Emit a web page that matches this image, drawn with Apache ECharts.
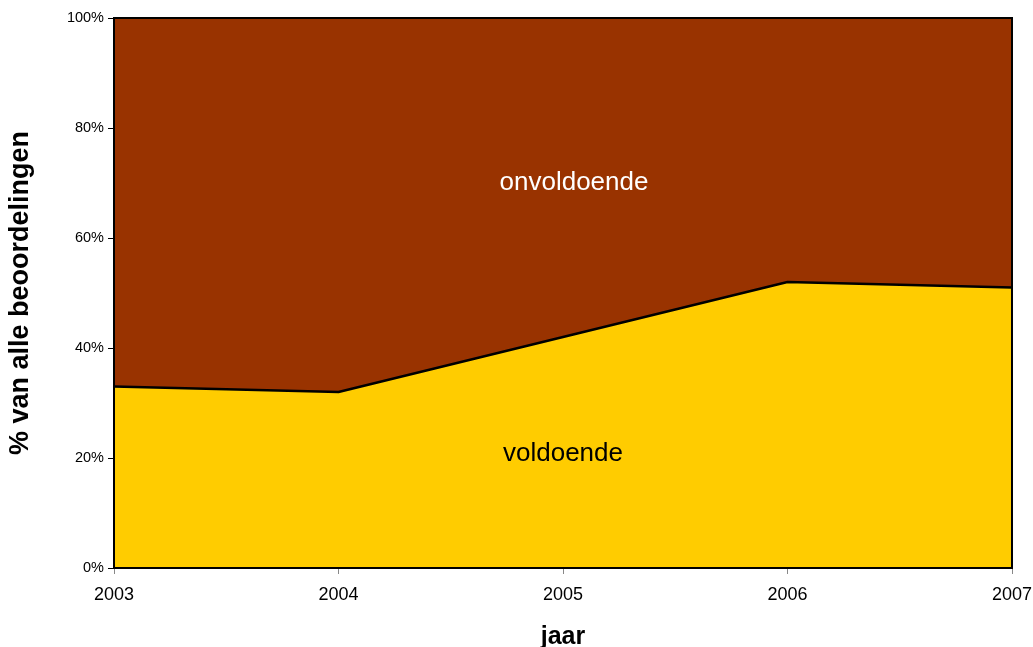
<!DOCTYPE html>
<html>
<head>
<meta charset="utf-8">
<script src="https://cdn.jsdelivr.net/npm/echarts@6/dist/echarts.min.js"></script>
<style>
html,body{margin:0;padding:0;background:#fff;}
#chart{width:1033px;height:647px;}
</style>
</head>
<body>
<div id="chart"></div>
<script>
const years = ['2003', '2004', '2005', '2006', '2007'];
const voldoende = [33, 32, 42, 52, 51];
const onvoldoende = [67, 68, 58, 48, 49];
const yTicks = [0, 20, 40, 60, 80, 100];

const chart = echarts.init(document.getElementById('chart'));
const font = 'Liberation Sans, Arial, sans-serif';
chart.setOption({
  animation: false,
  grid: {
    left: 114, right: 21, top: 18, bottom: 79,
    containLabel: false,
    outerBoundsMode: 'none',
    show: true, borderColor: '#000', borderWidth: 2, backgroundColor: 'transparent', z: 10
  },
  xAxis: {
    type: 'category',
    data: years,
    boundaryGap: false,
    name: 'jaar',
    nameLocation: 'middle',
    nameGap: 57,
    nameTextStyle: { fontFamily: font, fontSize: 25, fontWeight: 'bold', color: '#000' },
    axisLine: { lineStyle: { color: '#000', width: 2 } },
    axisTick: { show: true, length: 6, lineStyle: { color: '#888' } },
    axisLabel: { fontFamily: font, fontSize: 18, color: '#000', margin: 18 },
    splitLine: { show: false }
  },
  yAxis: {
    type: 'value',
    min: 0, max: 100, interval: 20,
    name: '% van alle beoordelingen',
    nameLocation: 'middle',
    nameGap: 80,
    nameTextStyle: { fontFamily: font, fontSize: 27, fontWeight: 'bold', color: '#000' },
    axisLine: { show: true, lineStyle: { color: '#000', width: 2 } },
    axisTick: { show: true, length: 6, lineStyle: { color: '#000' } },
    axisLabel: {
      fontFamily: font, fontSize: 14.5, color: '#000', margin: 10,
      formatter: v => yTicks.includes(v) ? v + '%' : ''
    },
    splitLine: { show: false }
  },
  series: [
    {
      name: 'voldoende',
      type: 'line',
      stack: 'total',
      data: voldoende,
      symbol: 'none',
      lineStyle: { color: '#000', width: 2.5 },
      areaStyle: { color: '#FFCC00', opacity: 1 },
      z: 3
    },
    {
      name: 'onvoldoende',
      type: 'line',
      stack: 'total',
      data: onvoldoende,
      symbol: 'none',
      lineStyle: { width: 0 },
      areaStyle: { color: '#993300', opacity: 1 },
      z: 2
    }
  ],
  graphic: [
    { type: 'text', x: 574, y: 183, style: { text: 'onvoldoende', fill: '#fff', font: '26px ' + font, textAlign: 'center', textVerticalAlign: 'middle' }, z: 100 },
    { type: 'text', x: 563, y: 454, style: { text: 'voldoende', fill: '#000', font: '26px ' + font, textAlign: 'center', textVerticalAlign: 'middle' }, z: 100 }
  ]
});
</script>
</body>
</html>
